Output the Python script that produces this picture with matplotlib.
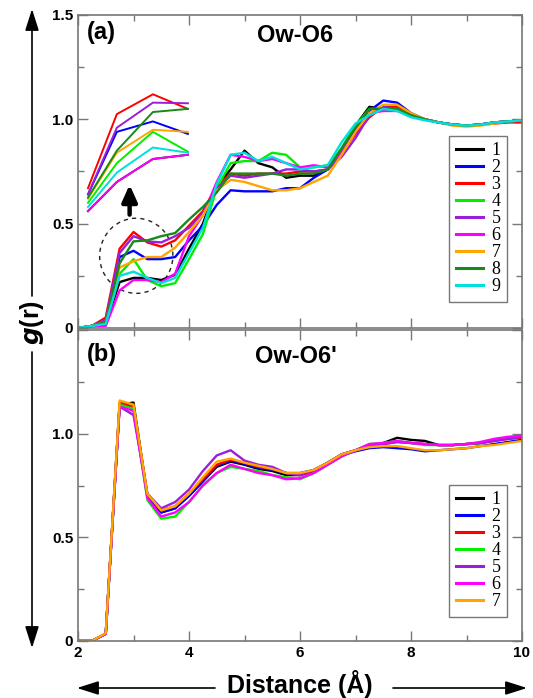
import numpy as np
import matplotlib
matplotlib.use("Agg")
import matplotlib.pyplot as plt
from matplotlib.patches import Ellipse, FancyArrowPatch

# ---------------- data ----------------
r = np.arange(2.0, 10.001, 0.25)

# panel (a) Ow-O6, series 1..9
a_black = [0,0.01,0.02,0.22,0.24,0.24,0.23,0.255,0.38,0.50,0.68,0.76,0.85,0.79,0.77,0.72,0.73,0.73,0.76,0.86,0.97,1.06,1.05,1.05,1.02,1.0,0.985,0.975,0.97,0.975,0.985,0.99,0.995]
a_blue = [0,0.01,0.03,0.34,0.37,0.33,0.33,0.34,0.42,0.49,0.59,0.66,0.655,0.655,0.655,0.67,0.67,0.72,0.76,0.85,0.95,1.04,1.09,1.08,1.03,1.0,0.985,0.975,0.97,0.975,0.985,0.99,0.995]
a_red = [0,0.01,0.05,0.38,0.46,0.41,0.39,0.42,0.49,0.56,0.68,0.74,0.73,0.74,0.74,0.74,0.75,0.75,0.76,0.84,0.93,1.01,1.06,1.06,1.02,1.0,0.985,0.975,0.97,0.975,0.98,0.985,0.985]
a_green = [0,0.01,0.02,0.26,0.33,0.23,0.20,0.215,0.33,0.45,0.67,0.79,0.80,0.80,0.84,0.83,0.77,0.77,0.78,0.86,0.97,1.05,1.05,1.05,1.02,1.0,0.985,0.975,0.97,0.975,0.985,0.99,0.995]
a_purple = [0,0.01,0.04,0.36,0.44,0.415,0.41,0.44,0.48,0.55,0.67,0.73,0.72,0.73,0.74,0.76,0.76,0.75,0.76,0.82,0.91,1.02,1.06,1.05,1.02,1.0,0.985,0.975,0.97,0.975,0.985,0.99,0.995]
a_magenta = [0,0.01,0.01,0.18,0.23,0.23,0.22,0.26,0.44,0.54,0.70,0.83,0.82,0.80,0.81,0.79,0.77,0.78,0.77,0.84,0.94,1.03,1.04,1.04,1.02,1.0,0.985,0.975,0.97,0.975,0.985,0.99,0.995]
a_orange = [0,0.01,0.03,0.29,0.32,0.34,0.34,0.385,0.46,0.54,0.66,0.71,0.70,0.68,0.66,0.66,0.67,0.70,0.73,0.83,0.94,1.03,1.07,1.07,1.03,1.0,0.985,0.97,0.965,0.97,0.98,0.99,0.995]
a_dkgreen = [0,0.01,0.03,0.31,0.415,0.42,0.44,0.455,0.52,0.58,0.65,0.74,0.74,0.74,0.74,0.73,0.74,0.74,0.76,0.86,0.96,1.05,1.05,1.05,1.02,1.0,0.985,0.975,0.97,0.975,0.985,0.99,0.995]
a_cyan = [0,0.01,0.02,0.25,0.27,0.24,0.215,0.24,0.36,0.48,0.69,0.83,0.84,0.80,0.82,0.79,0.76,0.77,0.78,0.89,0.98,1.02,1.05,1.04,1.01,0.995,0.985,0.975,0.97,0.975,0.985,0.99,0.995]

# magnified inset of the circled region (panel a)
inset_x = [2.18, 2.70, 3.35, 3.98]
in_black = [0.56, 0.70, 0.81, 0.83]
in_blue = [0.64, 0.94, 0.99, 0.93]
in_red = [0.67, 1.025, 1.12, 1.05]
in_green = [0.60, 0.79, 0.94, 0.845]
in_purple = [0.64, 0.96, 1.08, 1.077]
in_magenta = [0.56, 0.70, 0.81, 0.83]
in_orange = [0.62, 0.84, 0.95, 0.94]
in_dkgreen = [0.625, 0.85, 1.035, 1.05]
in_cyan = [0.58, 0.745, 0.865, 0.84]

# panel (b) Ow-O6', series 1..7
b_black = [0,0,0.035,1.14,1.15,0.70,0.62,0.64,0.70,0.77,0.84,0.865,0.85,0.83,0.82,0.80,0.80,0.82,0.86,0.90,0.92,0.94,0.955,0.98,0.97,0.965,0.945,0.945,0.95,0.955,0.97,0.98,0.985]
b_blue = [0,0,0.035,1.14,1.13,0.70,0.62,0.64,0.70,0.77,0.845,0.87,0.855,0.835,0.825,0.81,0.81,0.825,0.86,0.895,0.915,0.93,0.935,0.93,0.925,0.915,0.92,0.925,0.93,0.94,0.95,0.96,0.97]
b_red = [0,0,0.035,1.15,1.13,0.71,0.63,0.65,0.71,0.78,0.85,0.875,0.86,0.84,0.83,0.81,0.80,0.82,0.86,0.90,0.92,0.94,0.95,0.96,0.955,0.95,0.945,0.945,0.95,0.955,0.965,0.975,0.98]
b_green = [0,0,0.035,1.14,1.12,0.68,0.59,0.60,0.67,0.75,0.81,0.84,0.83,0.82,0.80,0.79,0.78,0.81,0.85,0.89,0.92,0.95,0.955,0.965,0.955,0.945,0.945,0.945,0.95,0.955,0.97,0.98,0.985]
b_purple = [0,0,0.035,1.13,1.09,0.71,0.64,0.67,0.73,0.82,0.895,0.92,0.87,0.85,0.84,0.81,0.80,0.825,0.86,0.90,0.92,0.945,0.95,0.96,0.955,0.95,0.945,0.945,0.95,0.955,0.965,0.975,0.985]
b_magenta = [0,0,0.035,1.13,1.11,0.69,0.60,0.62,0.67,0.75,0.81,0.85,0.83,0.81,0.80,0.78,0.785,0.81,0.85,0.89,0.92,0.95,0.955,0.965,0.955,0.95,0.945,0.945,0.95,0.96,0.975,0.985,0.99]
b_orange = [0,0,0.038,1.16,1.14,0.71,0.63,0.65,0.71,0.79,0.865,0.88,0.86,0.845,0.83,0.81,0.81,0.825,0.86,0.90,0.92,0.935,0.94,0.94,0.93,0.92,0.92,0.925,0.93,0.94,0.945,0.955,0.965]

labels_a = ["1", "2", "3", "4", "5", "6", "7", "8", "9"]
labels_b = ["1", "2", "3", "4", "5", "6", "7"]

C = {"black": "#000000", "blue": "#0000ff", "red": "#ff0000", "green": "#00ee00",
     "purple": "#9a1fd8", "magenta": "#ff00ff", "orange": "#ffa500",
     "dkgreen": "#178a17", "cyan": "#00dede"}

series_a = [a_black, a_blue, a_red, a_green, a_purple, a_magenta, a_orange, a_dkgreen, a_cyan]
inset_a = [in_black, in_blue, in_red, in_green, in_purple, in_magenta, in_orange, in_dkgreen, in_cyan]
cols_a = [C[k] for k in ["black", "blue", "red", "green", "purple", "magenta", "orange", "dkgreen", "cyan"]]
series_b = [b_black, b_blue, b_red, b_green, b_purple, b_magenta, b_orange]
cols_b = cols_a[:7]

# ---------------- figure ----------------
plt.rcParams['font.family'] = ['Liberation Sans', 'DejaVu Sans']
fig = plt.figure(figsize=(5.33, 6.98), dpi=100)
W, H = 533, 698
def box(l, t, r_, b):
    return [l / W, 1 - b / H, (r_ - l) / W, (b - t) / H]

ax1 = fig.add_axes(box(78, 15, 522, 328))
ax2 = fig.add_axes(box(78, 330, 522, 641))

spine_c = "#777777"
for ax in (ax1, ax2):
    ax.set_xlim(2, 10)
    ax.set_ylim(0, 1.5)
    ax.set_xticks([2, 4, 6, 8, 10])
    ax.set_xticks([3, 5, 7, 9], minor=True)
    ax.set_yticks([0, 0.5, 1.0, 1.5])
    ax.set_yticks([0.25, 0.75, 1.25], minor=True)
    ax.tick_params(which="both", direction="in", top=True, right=True, color=spine_c)
    ax.tick_params(which="major", length=7, width=1)
    ax.tick_params(which="minor", length=4, width=1)
    ax.tick_params(labelsize=11)
    for s in ax.spines.values():
        s.set_color(spine_c)
        s.set_linewidth(1.2)

ax1.set_yticklabels(["0", "0.5", "1.0", "1.5"], fontweight="bold")
ax2.set_yticklabels(["0", "0.5", "1.0", ""], fontweight="bold")
ax1.set_xticklabels([])
ax2.set_xticklabels(["2", "4", "6", "8", "10"], fontweight="bold")

lw = 1.7
for ys, c, lab in zip(series_a, cols_a, labels_a):
    ax1.plot(r, ys, color=c, lw=lw, label=lab)
for ys, c in zip(inset_a, cols_a):
    ax1.plot(inset_x, ys, color=c, lw=1.4)
for ys, c, lab in zip(series_b, cols_b, labels_b):
    ax2.plot(r, ys, color=c, lw=lw, label=lab)

# dashed circle and arrow
ax1.add_patch(Ellipse((3.05, 0.346), 1.32, 0.36, fill=False, ls=(0, (3, 3)), lw=1.0, ec="#222222"))
ax1.annotate("", xy=(2.93, 0.70), xytext=(2.93, 0.53),
             arrowprops=dict(arrowstyle="-|>,head_width=0.45,head_length=1.0", lw=3.2, color="black"))

legkw = dict(prop={"family": "Liberation Serif", "size": 13}, frameon=True, fancybox=False,
             edgecolor="#555555", handlelength=1.5, handletextpad=0.5, labelspacing=0.0,
             borderpad=0.35, borderaxespad=0)
leg1 = ax1.legend(loc="upper left", bbox_to_anchor=(0.836, 0.613), **legkw)
leg2 = ax2.legend(loc="upper left", bbox_to_anchor=(0.836, 0.502), **legkw)
for leg in (leg1, leg2):
    leg.get_frame().set_linewidth(1.0)
    for h in leg.get_lines():
        h.set_linewidth(2.2)

# panel labels
ax1.text(0.02, 0.945, "(a)", transform=ax1.transAxes, fontsize=17, fontweight="bold", va="center", ha="left")
ax1.text(0.49, 0.935, "Ow-O6", transform=ax1.transAxes, fontsize=17, fontweight="bold", va="center", ha="center")
ax2.text(0.02, 0.92, "(b)", transform=ax2.transAxes, fontsize=17, fontweight="bold", va="center", ha="left")
ax2.text(0.49, 0.915, "Ow-O6'", transform=ax2.transAxes, fontsize=17, fontweight="bold", va="center", ha="center")

# axis titles with arrows (figure coords)
def fx(px): return px / W
def fy(py): return 1 - py / H

fig.text(fx(300), fy(684), "Distance (Å)", fontsize=18, fontweight="bold", ha="center", va="center")
arrow_kw = dict(arrowstyle="-|>,head_width=0.35,head_length=1.1", mutation_scale=12,
                lw=1.2, color="black", shrinkA=0, shrinkB=0)
fig.add_artist(FancyArrowPatch((fx(215), fy(688)), (fx(77), fy(688)), transform=fig.transFigure, **arrow_kw))
fig.add_artist(FancyArrowPatch((fx(393), fy(688)), (fx(527), fy(688)), transform=fig.transFigure, **arrow_kw))

fig.text(fx(32), fy(322), r"$\mathbfit{g}$(r)", fontsize=18, fontweight="bold", rotation=90,
         ha="center", va="center")
fig.add_artist(FancyArrowPatch((fx(32), fy(296)), (fx(32), fy(9)), transform=fig.transFigure, **arrow_kw))
fig.add_artist(FancyArrowPatch((fx(32), fy(352)), (fx(32), fy(648)), transform=fig.transFigure, **arrow_kw))

fig.savefig("out.png", dpi=100)
